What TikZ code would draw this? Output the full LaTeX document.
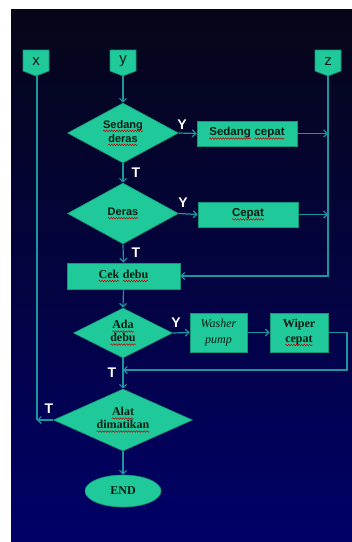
\documentclass[tikz,border=0pt]{standalone}
\usepackage{fontspec}
\setmainfont{Liberation Serif}
\setsansfont{Liberation Sans}
\usetikzlibrary{shapes.geometric,arrows.meta,decorations.pathmorphing}
\definecolor{mint}{RGB}{32,201,154}
\definecolor{mintborder}{RGB}{22,150,120}
\definecolor{linec}{RGB}{28,150,158}
\definecolor{nodetext}{RGB}{8,28,20}
\definecolor{bgtop}{RGB}{6,6,24}
\definecolor{bgbot}{RGB}{0,0,104}
\newcommand\spell[1]{\tikz[baseline=(spw.base)]{\node[shape=rectangle,draw=none,fill=none,inner sep=0pt,outer sep=0pt,minimum width=0pt,minimum height=0pt,anchor=base] (spw) {#1};\draw[draw=red!80!black,line width=0.5pt,decorate,decoration={snake,amplitude=0.8pt,segment length=2.6pt}] ([yshift=-2.8pt]spw.base west) -- ([yshift=-2.8pt]spw.base east);}}
\newcommand\sfnode{\sffamily\bfseries\fontsize{11}{15}\selectfont}
\newcommand\sfbox{\sffamily\bfseries\fontsize{11.5}{15}\selectfont}
\newcommand\rmnode{\rmfamily\bfseries\fontsize{12}{15}\selectfont}
\newcommand\itnode{\rmfamily\itshape\fontsize{12}{16}\selectfont}
\begin{document}
\begin{tikzpicture}[x=1pt,y=-1pt,
  dia/.style={diamond, aspect=2.2, fill=mint, draw=mintborder, line width=0.6pt, inner sep=0pt, text=nodetext, align=center},
  boxn/.style={rectangle, fill=mint, draw=mintborder, line width=0.8pt, inner sep=0pt, text=nodetext, align=center},
  connbox/.style={fill=mint, draw=mintborder, line width=0.6pt},
  conntext/.style={text=nodetext, font=\sffamily\fontsize{15}{15}\selectfont, inner sep=0pt},
  lbl/.style={text=white, font=\sffamily\bfseries\fontsize{14}{14}\selectfont, inner sep=0pt},
  flow/.style={draw=linec, line width=1.2pt, -{Straight Barb[length=3.5pt,width=7pt]}},
  plain/.style={draw=linec, line width=1.2pt}
]
\useasboundingbox (0,0) rectangle (352,542);
\fill[white] (0,0) rectangle (352,542);
\shade[top color=bgtop, bottom color=bgbot] (11,9) rectangle (352,542);

% off-page connectors
\path[connbox] (23,50) -- (49,50) -- (49,71) -- (36,76) -- (23,71) -- cycle;
\node[conntext] (cx) at (36,62) {x};
\coordinate (cxtip) at (37,76);
\path[connbox] (110,50) -- (136,50) -- (136,71) -- (123,76) -- (110,71) -- cycle;
\node[conntext] (cy) at (123,61) {y};
\coordinate (cytip) at (123,76);
\path[connbox] (315,50) -- (341,50) -- (341,71) -- (328,76) -- (315,71) -- cycle;
\node[conntext] (cz) at (328,62) {z};
\coordinate (cztip) at (328,76);

% nodes
\node[dia, minimum width=111pt, minimum height=60pt, font=\sfnode] (d1) at (123,133) {\spell{Sedang}\\[-1pt]\spell{deras}};
\node[boxn, minimum width=100pt, minimum height=25pt, font=\sfbox] (sc) at (247,133.5) {\spell{Sedang} \spell{cepat}};
\node[dia, minimum width=111pt, minimum height=61pt, font=\sfnode] (d2) at (123,213.5) {\spell{Deras}};
\node[boxn, minimum width=100pt, minimum height=25pt, font=\sfbox] (cp) at (248,214.5) {\spell{Cepat}};
\node[boxn, minimum width=113pt, minimum height=26pt, font=\rmnode] (cek) at (123.5,276) {\spell{Cek} \spell{debu}};
\node[dia, minimum width=99pt, minimum height=50pt, font=\rmnode] (d3) at (123,333) {\spell{Ada}\\[-2pt]\spell{debu}};
\node[boxn, minimum width=57pt, minimum height=39pt, font=\itnode] (wp) at (218.5,332.5) {Washer\\pump};
\node[boxn, minimum width=58pt, minimum height=39pt, font=\rmnode] (wc) at (299,332.5) {Wiper\\\spell{cepat}};
\node[dia, minimum width=139pt, minimum height=62pt, font=\rmnode] (d4) at (123,420) {\spell{Alat}\\[-2pt]\spell{dimatikan}};
\node[ellipse, fill=mint, draw=mintborder, line width=0.6pt, inner sep=0pt, minimum width=76pt, minimum height=32pt, text=nodetext, font=\rmnode] (end) at (123,491) {END};

% helper coordinates
\coordinate (zsc) at (cztip |- sc.east);
\coordinate (zcp) at (cztip |- cp.east);
\coordinate (zcek) at (cztip |- cek.east);
\coordinate (loopA) at (347,332.5);
\coordinate (loopB) at (347,370);
\coordinate (loopC) at (123,370);
\coordinate (xjoin) at (cxtip |- d4.west);

% connectors
\draw[flow] (cytip) -- (d1.north);
\draw[flow] (d1.east) -- (sc.west);
\draw[flow] (sc.east) -- (zsc);
\draw[flow] (d1.south) -- (d2.north);
\draw[flow] (d2.east) -- (cp.west);
\draw[flow] (cp.east) -- (zcp);
\draw[flow] (d2.south) -- (cek.north);
\draw[flow] (cztip) -- (zcek) -- (cek.east);
\draw[flow] (cek.south) -- (d3.north);
\draw[flow] (d3.east) -- (wp.west);
\draw[flow] (wp.east) -- (wc.west);
\draw[flow] (wc.east) -- (loopA) -- (loopB) -- (loopC);
\draw[flow] (d3.south) -- (d4.north);
\draw[plain] (cxtip) -- (xjoin);
\draw[flow] (d4.west) -- (xjoin);
\draw[flow] (d4.south) -- (end.north);

% labels
\node[lbl] (y1) at (182,125) {Y};
\node[lbl] (t1) at (136,173) {T};
\node[lbl] (y2) at (183,203) {Y};
\node[lbl] (t2) at (136,253) {T};
\node[lbl] (y3) at (176,323) {Y};
\node[lbl] (t3) at (112,373) {T};
\node[lbl] (t4) at (49,409) {T};
\end{tikzpicture}
\end{document}
